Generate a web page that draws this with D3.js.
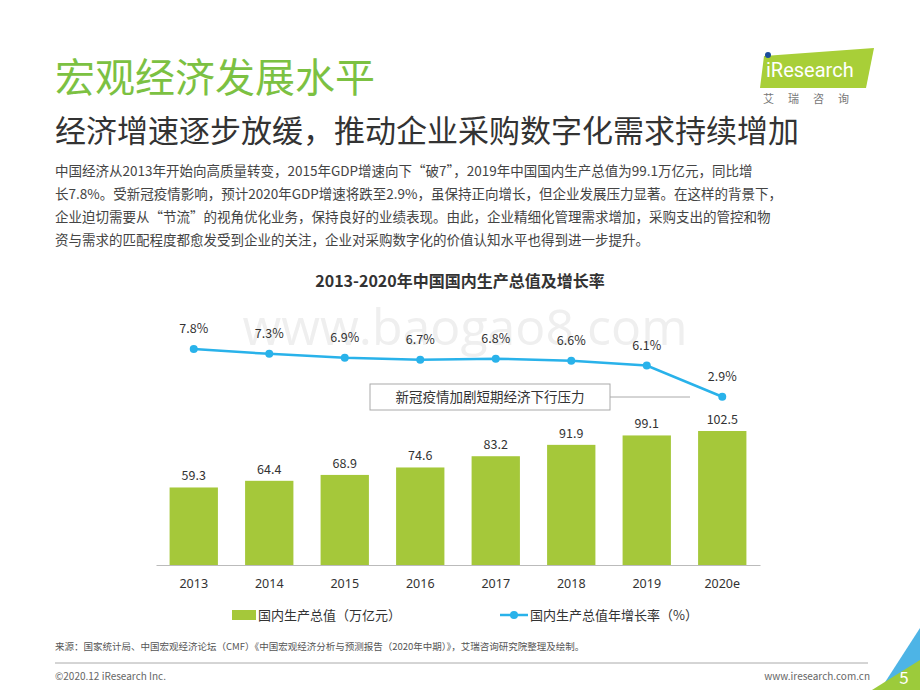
<!DOCTYPE html>
<html><head><meta charset="utf-8">
<script src="https://cdn.jsdelivr.net/npm/d3@7"></script>
<style>body{margin:0;background:#fff}svg{font-family:"Noto Sans CJK SC","Noto Sans",sans-serif}</style>
</head><body>
<script>
const years = ['2013', '2014', '2015', '2016', '2017', '2018', '2019', '2020e']
const gdp = [59.3, 64.4, 68.9, 74.6, 83.2, 91.9, 99.1, 102.5]
const growth = [7.8, 7.3, 6.9, 6.7, 6.8, 6.6, 6.1, 2.9]
const para = [
  '中国经济从2013年开始向高质量转变，2015年GDP增速向下“破7”，2019年中国国内生产总值为99.1万亿元，同比增',
  '长7.8%。受新冠疫情影响，预计2020年GDP增速将跌至2.9%，虽保持正向增长，但企业发展压力显著。在这样的背景下，',
  '企业迫切需要从“节流”的视角优化业务，保持良好的业绩表现。由此，企业精细化管理需求增加，采购支出的管控和物',
  '资与需求的匹配程度都愈发受到企业的关注，企业对采购数字化的价值认知水平也得到进一步提升。'
]
const green = '#a5c83a', blue = '#29b2ea'

const svg = d3.select('body').append('svg').attr('width', 920).attr('height', 690)

// header
svg.append('text').attr('x', 55).attr('y', 92).attr('font-size', 40).attr('fill', '#7cc142').text('宏观经济发展水平')
svg.append('text').attr('x', 55).attr('y', 142).attr('font-size', 31).attr('fill', '#333').text('经济增速逐步放缓，推动企业采购数字化需求持续增加')
svg.selectAll('.para').data(para).join('text')
  .attr('x', 55).attr('y', (d, i) => 176 + i * 23).attr('font-size', 13.5).attr('fill', '#444').text(d => d)

// logo
svg.append('path').attr('d', 'M764,56 L874,48 L866,88 L760,88 Z').attr('fill', '#a8cf38')
svg.append('text').attr('x', 766).attr('y', 77).attr('font-size', 20).attr('fill', '#fff').attr('font-family', 'Roboto').text('iResearch')
svg.append('circle').attr('cx', 768).attr('cy', 55).attr('r', 3).attr('fill', '#1a4d9c')
svg.append('text').attr('x', 763).attr('y', 103).attr('font-size', 11).attr('fill', '#777').attr('letter-spacing', 14).text('艾瑞咨询')

// chart title + watermark
svg.append('text').attr('x', 460).attr('y', 287).attr('text-anchor', 'middle').attr('font-size', 16).attr('font-weight', 'bold').attr('fill', '#333').text('2013-2020年中国国内生产总值及增长率')
svg.append('text').attr('x', 465).attr('y', 345).attr('text-anchor', 'middle').attr('font-size', 50).attr('fill', '#efefef').attr('font-family', 'Open Sans').text('www.baogao8.com')

const x = d3.scaleBand().domain(years).range([156, 760]).paddingInner(0.36).paddingOuter(0.18)
const y = d3.scaleLinear().domain([0, 102.5]).range([565, 431])
const yr = d3.scaleLinear().domain([0, 7.8]).range([425, 349])

svg.selectAll('.bar').data(gdp).join('rect')
  .attr('x', (d, i) => x(years[i])).attr('width', x.bandwidth())
  .attr('y', d => y(d)).attr('height', d => y(0) - y(d)).attr('fill', green)
svg.selectAll('.bl').data(gdp).join('text')
  .attr('x', (d, i) => x(years[i]) + x.bandwidth() / 2).attr('y', d => y(d) - 7)
  .attr('text-anchor', 'middle').attr('font-size', 12.5).attr('fill', '#333').text(d => d.toFixed(1))

const ax = svg.append('g').attr('transform', 'translate(0,565)')
  .call(d3.axisBottom(x).tickSize(0).tickPadding(14))
ax.select('.domain').attr('stroke', '#bbb')
ax.selectAll('text').attr('font-size', 12.5).attr('fill', '#333').attr('font-family', 'Noto Sans')

// annotation
svg.append('rect').attr('x', 370).attr('y', 384).attr('width', 240).attr('height', 26).attr('fill', '#fff').attr('stroke', '#aaa')
svg.append('line').attr('x1', 610).attr('x2', 690).attr('y1', 397).attr('y2', 397).attr('stroke', '#aaa')
svg.append('text').attr('x', 490).attr('y', 402).attr('text-anchor', 'middle').attr('font-size', 13.5).attr('fill', '#333').text('新冠疫情加剧短期经济下行压力')

const cx = (d, i) => x(years[i]) + x.bandwidth() / 2
svg.append('path').datum(growth).attr('fill', 'none').attr('stroke', blue).attr('stroke-width', 2.5)
  .attr('d', d3.line().x(cx).y(d => yr(d)))
svg.selectAll('.dot').data(growth).join('circle').attr('cx', cx).attr('cy', d => yr(d)).attr('r', 4).attr('fill', blue)
svg.selectAll('.gl').data(growth).join('text')
  .attr('x', cx).attr('y', d => yr(d) - 16).attr('text-anchor', 'middle').attr('font-size', 12.5).attr('fill', '#333')
  .text(d => d.toFixed(1) + '%')

// legend
svg.append('rect').attr('x', 232).attr('y', 610).attr('width', 24).attr('height', 10).attr('fill', green)
svg.append('text').attr('x', 258).attr('y', 620).attr('font-size', 13).attr('fill', '#333').text('国内生产总值（万亿元）')
svg.append('line').attr('x1', 500).attr('x2', 528).attr('y1', 615).attr('y2', 615).attr('stroke', blue).attr('stroke-width', 2.5)
svg.append('circle').attr('cx', 514).attr('cy', 615).attr('r', 4).attr('fill', blue)
svg.append('text').attr('x', 530).attr('y', 620).attr('font-size', 13).attr('fill', '#333').text('国内生产总值年增长率（%）')

// footer
svg.append('text').attr('x', 55).attr('y', 650).attr('font-size', 9.5).attr('fill', '#555')
  .text('来源：国家统计局、中国宏观经济论坛（CMF）《中国宏观经济分析与预测报告（2020年中期）》，艾瑞咨询研究院整理及绘制。')
svg.append('line').attr('x1', 55).attr('x2', 868).attr('y1', 663).attr('y2', 663).attr('stroke', '#aaa')
svg.append('text').attr('x', 55).attr('y', 680).attr('font-size', 10).attr('fill', '#666').text('©2020.12 iResearch Inc.')
svg.append('text').attr('x', 870).attr('y', 680).attr('text-anchor', 'end').attr('font-size', 10).attr('fill', '#666').text('www.iresearch.com.cn')
svg.append('path').attr('d', 'M880,690 L920,628 L920,690 Z').attr('fill', '#4db4e6')
svg.append('path').attr('d', 'M872,690 L920,660 L920,690 Z').attr('fill', '#9ccb3b')
svg.append('text').attr('x', 904).attr('y', 684).attr('text-anchor', 'middle').attr('font-size', 17).attr('fill', '#fff').text('5')
</script>
</body></html>
